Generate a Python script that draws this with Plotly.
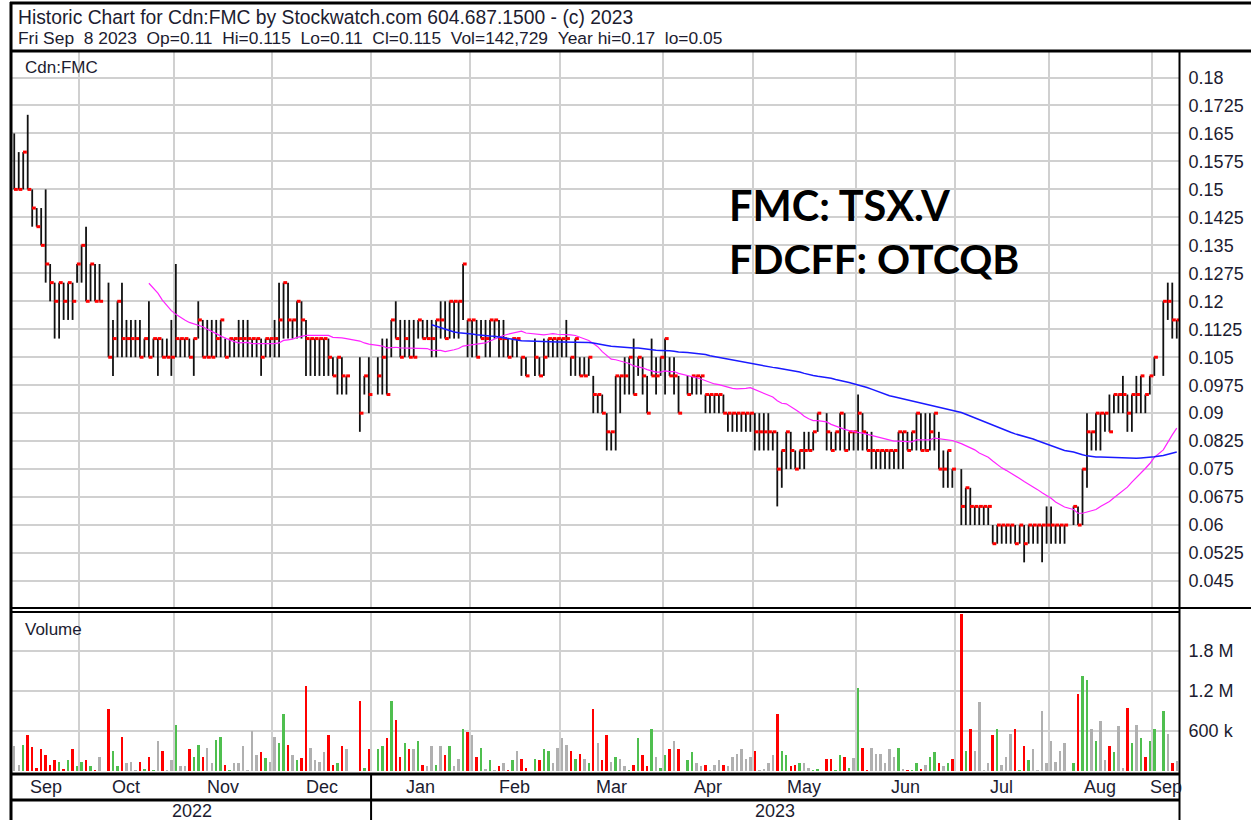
import pandas as pd
import plotly.graph_objects as go

N = None
# One slot per weekday, 2022-09-12 .. 2023-09-08 (None = market holiday / no trade)
high = [
    # Sep 2022
    .165, .16, .16, .17, .15, .145, .145, .15, .13, .125, .125, .125, .125, .125, .13,
    # Oct
    .135, .14, .13, .13, .13, N, .125, .115, .12, .125, .115, .115, .115, .115, .11, .12, .11, .11, .11, .11, .115,
    # Nov
    .13, .11, .11, .11, .11, .12, .115, .115, .115, .115, .115, .11, .11, .11, .115, .115, .115, .11, .11, .11, .11, .11,
    # Dec
    .115, .125, .125, .125, .115, .12, .12, .115, .11, .11, .11, .11, .11, .105, .105, .105, .10, N, N, .105, .10, .105,
    # Jan 2023
    N, .105, .11, .11, .115, .12, .115, .115, .115, .115, .115, .115, .115, .115, .115, .12, .12, .12, .12, .12, .13, .115,
    # Feb
    .115, .115, .115, .115, .115, .115, .115, .115, .11, .11, .11, .105, .105, N, .11, .105, .11, .11, .11, .11,
    # Mar
    .11, .115, .105, .11, .105, .105, .105, .10, .095, .095, .09, .085, .10, .10, .105, .105, .11, .105, .105, .10, .11, .105, .105,
    # Apr
    .11, .105, .105, .10, N, .10, .10, .10, .10, .095, .095, .095, .095, .095, .09, .09, .09, .09, .09, .09,
    # May
    .09, .09, .09, .09, .085, .085, .08, .085, .085, .08, .08, .085, .085, .085, .09, N, .09, .085, .085, .09, .09, .085, .085,
    # Jun
    .095, .09, .085, .085, .08, .08, .08, .08, .08, .085, .085, .085, .085, .09, .09, .09, .09, .09, .085, .08, .08, .075,
    # Jul
    N, .075, .07, .07, .065, .065, .065, .065, .06, .06, .06, .06, .06, .06, .06, .06, .06, .06, .06, .06, .065,
    # Aug
    .065, .06, .06, .06, N, .065, .065, .075, .09, .085, .09, .09, .09, .095, .095, .095, .10, .095, .095, .10, .10, .095, .10,
    # Sep 2023
    .105, N, .12, .125, .125, .115,
]
low = [
    .15, .15, .15, .15, .14, .14, .135, .125, .12, .11, .11, .115, .115, .115, .125,
    .125, .12, .12, .12, .12, N, .105, .10, .105, .105, .105, .105, .105, .105, .105, .105, .105, .10, .105, .105, .10,
    .105, .105, .105, .105, .10, .11, .105, .105, .105, .105, .105, .105, .105, .105, .105, .105, .105, .105, .105, .10, .105, .105,
    .105, .105, .11, .11, .11, .11, .11, .10, .10, .10, .10, .10, .10, .10, .095, .095, .095, N, N, .085, .095, .09,
    N, .095, .095, .095, .105, .11, .105, .105, .105, .105, .11, .11, .11, .105, .105, .11, .11, .11, .11, .11, .115, .105,
    .105, .105, .11, .105, .105, .11, .105, .105, .105, .105, .105, .10, .10, N, .10, .10, .10, .105, .105, .105,
    .105, .105, .10, .10, .10, .10, .10, .09, .09, .09, .08, .08, .08, .09, .095, .095, .095, .10, .095, .09, .10, .095, .10,
    .095, .10, .095, .09, N, .095, .095, .095, .095, .09, .09, .09, .09, .09, .085, .085, .085, .085, .085, .085,
    .08, .08, .08, .08, .08, .065, .07, .075, .075, .075, .075, .075, .08, .08, .085, N, .08, .08, .08, .08, .08, .08, .08,
    .08, .08, .08, .075, .075, .075, .075, .075, .075, .075, .075, .08, .08, .08, .08, .08, .08, .08, .075, .07, .07, .07,
    N, .06, .06, .06, .06, .06, .06, .06, .055, .055, .055, .055, .055, .055, .055, .05, .055, .055, .055, .05, .055,
    .055, .055, .055, .055, N, .06, .06, .06, .07, .08, .08, .08, .085, .085, .09, .09, .09, .085, .085, .09, .09, .09, .095,
    .10, N, .10, .115, .11, .11,
]
close = [
    .15, .15, .16, .15, .145, .14, .135, .13, .125, .12, .125, .12, .125, .12, .13,
    .135, .12, .13, .12, .12, N, .105, .11, .12, .11, .11, .11, .11, .105, .11, .105, .11, .11, .105, .105, .105,
    .11, .11, .11, .105, .11, .115, .105, .105, .105, .11, .115, .105, .11, .11, .11, .11, .11, .11, .11, .105, .11, .11,
    .11, .115, .125, .115, .115, .12, .115, .11, .11, .11, .11, .11, .105, .10, .105, .10, .10, N, N, .09, .10, .095,
    N, .10, .105, .095, .115, .11, .105, .11, .105, .105, .115, .11, .11, .11, .115, .115, .11, .12, .12, .12, .13, .115,
    .115, .105, .11, .11, .115, .115, .11, .11, .105, .11, .11, .105, .10, N, .105, .10, .105, .11, .11, .11,
    .11, .11, .105, .11, .10, .10, .105, .095, .095, .09, .085, .085, .10, .10, .10, .105, .095, .105, .10, .09, .10, .10, .105,
    .11, .10, .10, .09, N, .095, .10, .10, .10, .095, .095, .095, .095, .09, .09, .09, .09, .09, .09, .09,
    .085, .085, .085, .085, .085, .075, .08, .085, .08, .075, .08, .08, .08, .085, .09, N, .085, .08, .085, .09, .08, .085, .085,
    .09, .085, .08, .08, .08, .08, .08, .08, .08, .085, .085, .08, .085, .09, .08, .08, .085, .09, .075, .075, .08, .075,
    N, .065, .07, .065, .065, .065, .065, .065, .055, .06, .06, .06, .06, .055, .06, .055, .06, .06, .06, .06, .06,
    .06, .06, .06, .06, N, .065, .06, .075, .085, .085, .09, .09, .09, .085, .095, .095, .095, .09, .095, .095, .10, .095, .10,
    .105, N, .12, .12, .115, .115,
]
volume = [
    370000, 89000, 396000, 534000, 355000, 49000, 329000, 237000, 89000, 166000, 140000, 23000, 166000, 329000, 74000,
    140000, 166000, 74000, 10000, 212000, 0, 932000, 304000, 74000, 513000, 120000, 140000, 5000, 140000, 28000, 212000, 15000, 447000, 304000, 15000, 166000,
    697000, 74000, 74000, 329000, 212000, 396000, 212000, 350000, 120000, 467000, 513000, 94000, 15000, 120000, 120000, 375000, 5000, 605000, 237000, 283000, 191000, 140000,
    513000, 421000, 860000, 396000, 237000, 166000, 191000, 1280000, 350000, 166000, 140000, 283000, 539000, 94000, 120000, 375000, 329000, 0, 0, 1044000, 49000, 329000,
    0, 329000, 375000, 493000, 1044000, 770000, 212000, 421000, 329000, 329000, 447000, 94000, 74000, 375000, 94000, 375000, 237000, 375000, 74000, 186000, 631000, 585000,
    539000, 212000, 350000, 28000, 166000, 10000, 74000, 120000, 10000, 166000, 304000, 186000, 49000, 0, 186000, 166000, 329000, 304000, 120000, 350000,
    493000, 396000, 304000, 186000, 258000, 186000, 120000, 932000, 421000, 166000, 539000, 140000, 212000, 186000, 74000, 10000, 94000, 493000, 237000, 74000, 626000, 212000, 49000,
    237000, 329000, 447000, 329000, 0, 166000, 283000, 120000, 74000, 94000, 5000, 94000, 166000, 94000, 74000, 212000, 258000, 329000, 186000, 212000,
    304000, 5000, 28000, 120000, 237000, 855000, 304000, 237000, 74000, 94000, 120000, 120000, 49000, 10000, 28000, 0, 186000, 186000, 10000, 237000, 212000, 49000, 191000,
    1250000, 350000, 15000, 350000, 258000, 258000, 120000, 329000, 212000, 350000, 28000, 10000, 10000, 120000, 28000, 94000, 212000, 283000, 120000, 74000, 120000, 186000,
    0, 2350000, 304000, 626000, 304000, 1040000, 10000, 120000, 539000, 626000, 94000, 212000, 559000, 626000, 10000, 375000, 166000, 329000, 5000, 906000, 120000,
    447000, 140000, 304000, 421000, 0, 120000, 1160000, 1420000, 1370000, 631000, 447000, 748000, 166000, 375000, 283000, 677000, 49000, 950000, 421000, 697000, 493000, 212000, 447000,
    631000, 0, 906000, 559000, 120000, 142729,
]
price_ticks = [0.045, 0.0525, 0.06, 0.0675, 0.075, 0.0825, 0.09, 0.0975, 0.105, 0.1125,
               0.12, 0.1275, 0.135, 0.1425, 0.15, 0.1575, 0.165, 0.1725, 0.18]
price_labels = ["0.045", "0.0525", "0.06", "0.0675", "0.075", "0.0825", "0.09", "0.0975", "0.105", "0.1125",
                "0.12", "0.1275", "0.135", "0.1425", "0.15", "0.1575", "0.165", "0.1725", "0.18"]
vol_ticks = [600000, 1200000, 1800000]
vol_labels = ["600 k", "1.2 M", "1.8 M"]

dates = pd.bdate_range("2022-09-12", "2023-09-08")
n = len(dates)
assert n == len(high) == len(low) == len(close) == len(volume)

W, H = 1251, 820
def px(x):
    return x / W
def py(y):
    return 1 - y / H

FONT = "Liberation Sans, Arial, sans-serif"
TXT = "#1c1c30"

# High-low bars and close ticks
hx, hy, cx, cy = [], [], [], []
for i in range(n):
    if high[i] is None:
        continue
    hx += [i, i, None]
    hy += [low[i], high[i], None]
    cx += [i - 0.05, i + 0.8, None]
    cy += [close[i], close[i], None]

# Moving averages over trading days
trade_idx = [i for i in range(n) if close[i] is not None]
cs = pd.Series([close[i] for i in trade_idx], index=trade_idx)
ma30 = cs.rolling(30).mean().dropna()
ma90 = cs.rolling(90).mean().dropna()

# Volume colours from close-to-close change
vcol = []
prev = None
for i in range(n):
    c = close[i]
    if c is None:
        vcol.append("#b0b0b0")
        continue
    if prev is None or abs(c - prev) < 1e-9:
        vcol.append("#b0b0b0")
    elif c > prev:
        vcol.append("#4fbf4f")
    else:
        vcol.append("#ff0000")
    prev = c

fig = go.Figure()
fig.add_trace(go.Scatter(x=hx, y=hy, mode="lines", line=dict(color="#111111", width=1.8),
                         hoverinfo="skip", xaxis="x", yaxis="y"))
fig.add_trace(go.Scatter(x=cx, y=cy, mode="lines", line=dict(color="#ff0000", width=3),
                         hoverinfo="skip", xaxis="x", yaxis="y"))
fig.add_trace(go.Scatter(x=list(ma30.index), y=list(ma30.values), mode="lines",
                         line=dict(color="#ff22ff", width=1.2), hoverinfo="skip", xaxis="x", yaxis="y"))
fig.add_trace(go.Scatter(x=list(ma90.index), y=list(ma90.values), mode="lines",
                         line=dict(color="#1a1aff", width=1.5), hoverinfo="skip", xaxis="x", yaxis="y"))
fig.add_trace(go.Bar(x=list(range(n)), y=volume, marker=dict(color=vcol, line=dict(width=0)),
                     width=0.55, hoverinfo="skip", xaxis="x2", yaxis="y2"))

# month boundaries
month_start = [i for i in range(n) if i == 0 or dates[i].month != dates[i - 1].month]
bounds = [s - 0.5 for s in month_start[1:]]

xdom = [px(12), px(1179)]
common_x = dict(range=[-0.5, n - 0.5], domain=xdom, tickvals=bounds, showticklabels=False,
                showgrid=True, gridcolor="#d0d0d0", gridwidth=2, zeroline=False, showline=False, ticks="")
fig.update_layout(
    width=W, height=H, margin=dict(l=0, r=0, t=0, b=0, pad=0),
    paper_bgcolor="white", plot_bgcolor="white", showlegend=False, hovermode=False,
    bargap=0,
    xaxis=dict(anchor="y", **common_x),
    xaxis2=dict(anchor="y2", matches="x", **common_x),
    yaxis=dict(domain=[py(607), py(52)], range=[0.03803, 0.18684], side="right",
               tickvals=price_ticks, ticktext=price_labels, showgrid=True, gridcolor="#d0d0d0", gridwidth=2,
               zeroline=False, ticks="outside", ticklen=5, tickcolor="rgba(0,0,0,0)",
               tickfont=dict(family=FONT, size=18, color=TXT), anchor="x"),
    yaxis2=dict(domain=[py(771), py(613)], range=[0, 2370000], side="right",
                tickvals=vol_ticks, ticktext=vol_labels, showgrid=True, gridcolor="#d0d0d0", gridwidth=2,
                zeroline=False, ticks="outside", ticklen=5, tickcolor="rgba(0,0,0,0)",
                tickfont=dict(family=FONT, size=18, color=TXT), anchor="x2"),
)

shapes = []
def hline(y, x0, x1, w):
    shapes.append(dict(type="line", xref="paper", yref="paper", x0=px(x0), x1=px(x1), y0=py(y), y1=py(y),
                       line=dict(color="black", width=w)))
def vline(x, y0, y1, w):
    shapes.append(dict(type="line", xref="paper", yref="paper", x0=px(x), x1=px(x), y0=py(y0), y1=py(y1),
                       line=dict(color="black", width=w)))
hline(3, 10, W, 3)
hline(51, 10, W, 3)
vline(11, 2, H, 3)
vline(1179.5, 50, H, 2)
hline(608, 10, W, 2)
hline(612, 10, 1179, 2)
hline(774, 10, 1179, 3)
hline(800, 10, 1179, 3)
jan_idx = [i for i in month_start if dates[i].year == 2023][0]
jan_px = 12 + jan_idx * (1167 / n)
vline(jan_px, 774, H, 2)
fig.update_layout(shapes=shapes)

ann = []
def txt(x, y, s, size=18, xanchor="left", xref="paper", family=FONT, color=TXT):
    ann.append(dict(x=x if xref != "paper" else px(x), y=py(y), xref=xref, yref="paper", text=s,
                    showarrow=False, xanchor=xanchor, yanchor="middle",
                    font=dict(family=family, size=size, color=color)))

nb = "\u00a0"
txt(16, 17, "Historic Chart for Cdn:FMC by Stockwatch.com 604.687.1500 - (c) 2023", size=19.3)
txt(16, 38, f"Fri Sep{nb}{nb}8 2023{nb}{nb}Op=0.11{nb}{nb}Hi=0.115{nb}{nb}Lo=0.11{nb}{nb}Cl=0.115{nb}{nb}"
            f"Vol=142,729{nb}{nb}Year hi=0.17{nb}{nb}lo=0.05", size=17.4)
txt(23, 68, "Cdn:FMC", size=17)
txt(23, 629, "Volume", size=17)
txt(727, 205, "<b>FMC: TSX.V</b>", size=41.5, family="Lato, Open Sans, sans-serif", color="black")
txt(727, 258, "<b>FDCFF: OTCQB</b>", size=41, family="Lato, Open Sans, sans-serif", color="black")

ends = month_start[1:] + [n]
for s, e in zip(month_start, ends):
    txt((s + e - 1) / 2, 787, dates[s].strftime("%b"), xanchor="center", xref="x")
txt((0 + jan_idx - 1) / 2, 811, "2022", xanchor="center", xref="x")
txt((jan_idx + n - 1) / 2, 811, "2023", xanchor="center", xref="x")
fig.update_layout(annotations=ann)

fig.write_html("out.html", config={"displayModeBar": False},
               post_script="document.body.style.margin='0';document.body.style.overflow='hidden';")
